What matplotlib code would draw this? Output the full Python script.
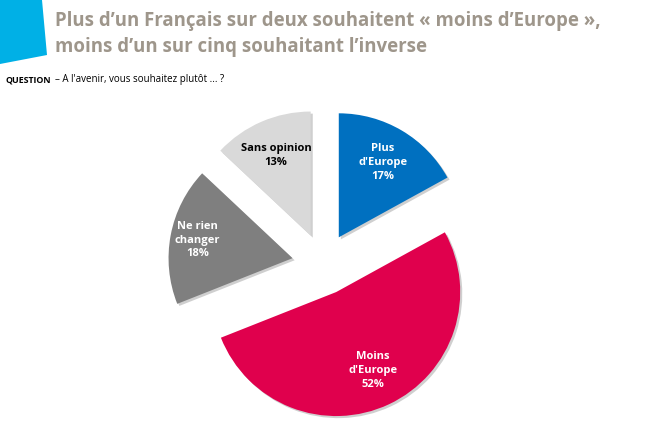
import matplotlib.pyplot as plt
from matplotlib.patches import Polygon
import matplotlib.patheffects as pe
import numpy as np

# data
labels = ["Plus\nd'Europe", "Moins\nd'Europe", "Ne rien\nchanger", "Sans opinion"]
values = [17, 52, 18, 13]
colors = ["#0070C0", "#E0004D", "#7F7F7F", "#D9D9D9"]
text_colors = ["white", "white", "white", "black"]
label_dist = [0.7, 0.7, 0.78, 0.7]

title_lines = ["Plus d\u2019un Français sur deux souhaitent « moins d\u2019Europe »,",
               "moins d\u2019un sur cinq souhaitant l\u2019inverse"]

W, H = 660, 442
fig = plt.figure(figsize=(W / 100, H / 100), dpi=100)

# pie center / radius in pixels
cx, cy, R = 323, 442 - 264, 124

ax = fig.add_axes([0, 0, 1, 1])
wedges, _ = ax.pie(values, colors=colors, startangle=90, counterclock=False,
                   explode=[0.25] * 4, radius=1,
                   wedgeprops=dict(linewidth=0))
for w in wedges:
    w.set_path_effects([pe.SimplePatchShadow(offset=(1.5, -1.5), shadow_rgbFace="#888888", alpha=0.4),
                        pe.Normal()])

for w, lab, v, tc, d in zip(wedges, labels, values, text_colors, label_dist):
    th = np.deg2rad((w.theta1 + w.theta2) / 2)
    x = w.center[0] + d * w.r * np.cos(th)
    y = w.center[1] + d * w.r * np.sin(th)
    ax.text(x, y, f"{lab}\n{v}%", ha="center", va="center", color=tc,
            fontsize=8.0, fontweight="bold", family="Open Sans", linespacing=1.35)

ax.set_xlim(-cx / R, (W - cx) / R)
ax.set_ylim(-cy / R, (H - cy) / R)
ax.set_aspect("equal")
ax.axis("off")

# cyan corner shape
fig.patches.append(Polygon([[0, 1], [42 / W, 1], [47 / W, 1 - 55 / H], [0, 1 - 64 / H]],
                           closed=True, transform=fig.transFigure, facecolor="#00B0E6",
                           edgecolor="none"))

for line, base in zip(title_lines, [26, 52]):
    fig.text(55 / W, 1 - base / H, line, ha="left", va="baseline", fontsize=13.4,
             fontweight="bold", color="#9E968B", family="Open Sans")

fig.text(6 / W, 1 - 82 / H, "QUESTION", ha="left", va="baseline", fontsize=6.4,
         fontweight="bold", family="Open Sans", color="black")
fig.text(55 / W, 1 - 82 / H, "\u2013 A l'avenir, vous souhaitez plutôt ... ?", ha="left",
         va="baseline", fontsize=7.0, family="Open Sans", color="black")

fig.savefig("out.png", dpi=100)
